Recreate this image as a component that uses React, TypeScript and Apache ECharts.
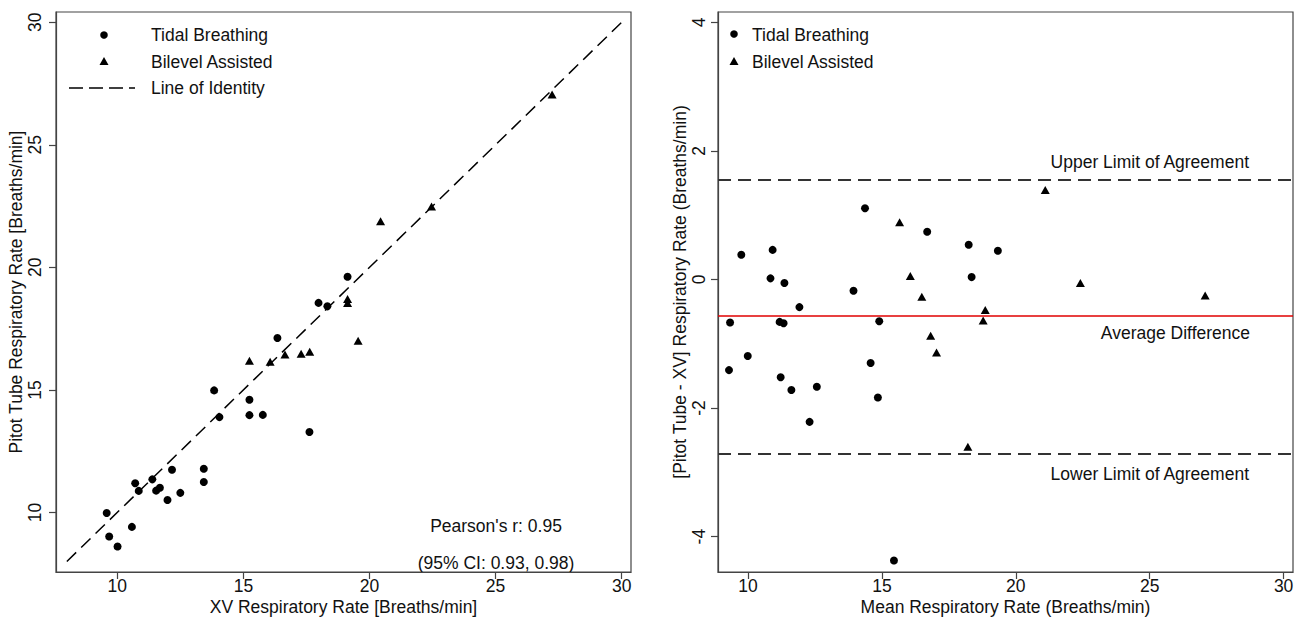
import React, { useEffect, useRef } from "react";
import * as echarts from "echarts";

// ---- Left panel: XV vs Pitot tube ----
const tidalXY: [number, number][] = [
  [9.58, 9.98], [9.68, 9.02], [10.01, 8.61], [10.58, 9.41], [10.71, 11.19],
  [10.85, 10.88], [11.39, 11.35], [11.54, 10.89], [11.69, 11.01], [11.99, 10.51],
  [12.17, 11.74], [12.5, 10.8], [13.43, 11.78], [13.43, 11.24], [13.84, 14.98],
  [14.05, 13.89], [15.24, 14.6], [15.24, 13.97], [15.77, 13.98], [17.62, 13.28],
  [16.35, 17.12], [17.98, 18.55], [18.33, 18.41], [19.13, 19.62],
];
const bilevelXY: [number, number][] = [
  [15.24, 16.19], [16.06, 16.15], [16.65, 16.44], [17.29, 16.48], [17.63, 16.56],
  [19.55, 17.01], [19.13, 18.71], [19.13, 18.55], [20.44, 21.88], [22.46, 22.48],
  [27.24, 27.05],
];
const identityLine: [number, number][] = [[8, 8], [30, 30]];

// ---- Right panel: Bland-Altman ----
const tidalBA: [number, number][] = [
  [9.75, 0.385], [9.33, -0.67], [9.29, -1.41], [9.99, -1.19], [10.92, 0.46],
  [10.84, 0.017], [11.36, -0.056], [11.18, -0.66], [11.33, -0.68], [11.22, -1.52],
  [11.92, -0.43], [11.62, -1.72], [12.57, -1.67], [12.3, -2.215], [14.37, 1.107],
  [13.94, -0.176], [14.9, -0.65], [14.58, -1.3], [14.85, -1.835], [15.45, -4.37],
  [16.69, 0.743], [18.24, 0.54], [18.35, 0.037], [19.33, 0.447],
];
const bilevelBA: [number, number][] = [
  [15.66, 0.889], [16.06, 0.053], [16.49, -0.27], [16.82, -0.876], [17.04, -1.135],
  [18.21, -2.6], [18.86, -0.476], [18.78, -0.64], [21.1, 1.39], [22.41, -0.056],
  [27.07, -0.25],
];
const upperLoA = 1.55;
const meanDiff = -0.575;
const lowerLoA = -2.71;

const leftTicks = [10, 15, 20, 25, 30];
const rightXTicks = [10, 15, 20, 25, 30];
const rightYTicks = [-4, -2, 0, 2, 4];

const FONT = "'Liberation Sans', Arial, Helvetica, sans-serif";
const FS = 17.5;
const AX = "#444";
const TXT = "#111";

function xAxisCfg(gridIndex: number, min: number, max: number, ticks: number[], name: string) {
  return {
    type: "value",
    gridIndex,
    min,
    max,
    name,
    nameLocation: "middle",
    nameGap: 26,
    nameMoveOverlap: false,
    nameTextStyle: { fontFamily: FONT, fontSize: FS, color: TXT },
    axisLine: { show: true, onZero: false, lineStyle: { color: AX, width: 1.2 } },
    axisTick: { show: true, inside: false, length: 7, customValues: ticks, lineStyle: { color: AX, width: 1.2 } },
    axisLabel: { show: true, margin: 5, customValues: ticks, fontFamily: FONT, fontSize: FS, color: TXT },
    splitLine: { show: false },
  };
}

function yAxisCfg(gridIndex: number, min: number, max: number, ticks: number[], name: string, margin: number, nameGap: number) {
  return {
    type: "value",
    gridIndex,
    min,
    max,
    name,
    nameLocation: "middle",
    nameGap,
    nameRotate: 90,
    nameTextStyle: { fontFamily: FONT, fontSize: FS, color: TXT },
    axisLine: { show: true, onZero: false, lineStyle: { color: AX, width: 1.2 } },
    axisTick: { show: true, inside: false, length: 7, customValues: ticks, lineStyle: { color: AX, width: 1.2 } },
    axisLabel: { show: true, rotate: 90, margin, customValues: ticks, fontFamily: FONT, fontSize: FS, color: TXT },
    splitLine: { show: false },
  };
}

function txt(x: number, y: number, text: string, align: string = "left") {
  return {
    type: "text",
    x,
    y,
    silent: true,
    style: {
      text,
      fill: TXT,
      font: `${FS}px ${FONT}`,
      align,
      textAlign: align,
      verticalAlign: "middle",
      textVerticalAlign: "middle",
    },
  };
}

function tri(cx: number, cy: number) {
  return {
    type: "polygon",
    silent: true,
    shape: { points: [[cx, cy - 4], [cx + 4.5, cy + 4], [cx - 4.5, cy + 4]] },
    style: { fill: "#000" },
  };
}

export default function App() {
  const ref = useRef<HTMLDivElement>(null);
  useEffect(() => {
    if (!ref.current) return;
    const chart = echarts.init(ref.current, null, { renderer: "svg" });
    const dash = [13, 7];
    const marker = { color: "#000", opacity: 1 };
    const option: any = {
      animation: false,
      backgroundColor: "#fff",
      grid: [
        { left: 56, top: 12, width: 575, height: 560, show: true, borderColor: AX, borderWidth: 1.2, backgroundColor: "transparent", containLabel: false, outerBoundsMode: "none" },
        { left: 718, top: 12, width: 575, height: 560, show: true, borderColor: AX, borderWidth: 1.2, backgroundColor: "transparent", containLabel: false, outerBoundsMode: "none" },
      ],
      xAxis: [
        xAxisCfg(0, 7.57, 30.37, leftTicks, "XV Respiratory Rate [Breaths/min]"),
        xAxisCfg(1, 8.88, 30.35, rightXTicks, "Mean Respiratory Rate (Breaths/min)"),
      ],
      yAxis: [
        yAxisCfg(0, 7.57, 30.42, leftTicks, "Pitot Tube Respiratory Rate [Breaths/min]", 12, 30),
        yAxisCfg(1, -4.55, 4.16, rightYTicks, "[Pitot Tube - XV] Respiratory Rate (Breaths/min)", 10, 23),
      ],
      series: [
        {
          type: "line",
          xAxisIndex: 0,
          yAxisIndex: 0,
          data: identityLine,
          symbol: "none",
          silent: true,
          lineStyle: { color: "#000", width: 1.5, type: dash },
        },
        {
          type: "scatter",
          name: "Tidal Breathing",
          xAxisIndex: 0,
          yAxisIndex: 0,
          data: tidalXY,
          symbol: "circle",
          symbolSize: 8,
          itemStyle: marker,
        },
        {
          type: "scatter",
          name: "Bilevel Assisted",
          xAxisIndex: 0,
          yAxisIndex: 0,
          data: bilevelXY,
          symbol: "triangle",
          symbolSize: [9, 8],
          itemStyle: marker,
        },
        {
          type: "scatter",
          name: "Tidal Breathing BA",
          xAxisIndex: 1,
          yAxisIndex: 1,
          data: tidalBA,
          symbol: "circle",
          symbolSize: 8,
          itemStyle: marker,
          markLine: {
            silent: true,
            symbol: ["none", "none"],
            label: { show: false },
            data: [
              { yAxis: upperLoA, lineStyle: { color: "#333", width: 1.8, type: dash } },
              { yAxis: meanDiff, lineStyle: { color: "#e00000", width: 1.5, type: "solid" } },
              { yAxis: lowerLoA, lineStyle: { color: "#333", width: 1.8, type: dash } },
            ],
          },
        },
        {
          type: "scatter",
          name: "Bilevel Assisted BA",
          xAxisIndex: 1,
          yAxisIndex: 1,
          data: bilevelBA,
          symbol: "triangle",
          symbolSize: [9, 8],
          itemStyle: marker,
        },
      ],
      graphic: [
        // left legend
        { type: "circle", silent: true, shape: { cx: 104, cy: 35, r: 3.8 }, style: { fill: "#000" } },
        txt(151, 35, "Tidal Breathing"),
        tri(104, 61),
        txt(151, 62, "Bilevel Assisted"),
        { type: "line", silent: true, shape: { x1: 69, y1: 88, x2: 135, y2: 88 }, style: { stroke: "#000", lineWidth: 1.5, lineDash: [14, 6] } },
        txt(151, 88, "Line of Identity"),
        // correlation
        txt(496, 526, "Pearson's r: 0.95", "center"),
        txt(496, 563, "(95% CI: 0.93, 0.98)", "center"),
        // right legend
        { type: "circle", silent: true, shape: { cx: 734, cy: 34, r: 3.8 }, style: { fill: "#000" } },
        txt(752, 35, "Tidal Breathing"),
        tri(734, 61),
        txt(752, 62, "Bilevel Assisted"),
        // agreement labels
        txt(1249, 162, "Upper Limit of Agreement", "right"),
        txt(1250, 333, "Average Difference", "right"),
        txt(1249, 474, "Lower Limit of Agreement", "right"),
      ],
    };
    chart.setOption(option);
    return () => chart.dispose();
  }, []);
  return <div ref={ref} style={{ position: "absolute", left: 0, top: 0, width: 1301, height: 621 }} />;
}
